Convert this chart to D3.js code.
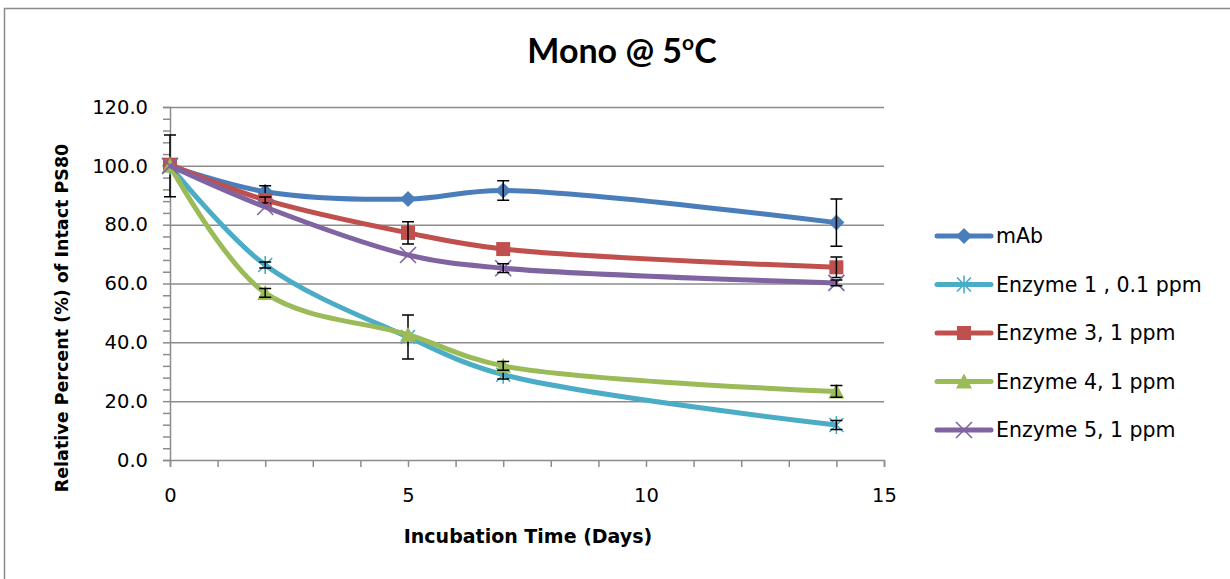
<!DOCTYPE html>
<html>
<head>
<meta charset="utf-8">
<script src="https://cdn.jsdelivr.net/npm/d3@7"></script>
<style>
  body { margin: 0; background: #fff; }
  svg text { font-family: "DejaVu Sans", sans-serif; fill: #000; }
</style>
</head>
<body>
<div id="chart"></div>
<script>
const width = 1230;
const height = 579;

// data
const days = [0, 2, 5, 7, 14];
const seriesNames = ['mAb', 'Enzyme 1 , 0.1 ppm', 'Enzyme 3, 1 ppm', 'Enzyme 4, 1 ppm', 'Enzyme 5, 1 ppm'];
const mAb      = [100.0, 91.2, 88.7, 91.6, 80.7];
const enzyme1  = [100.0, 66.3, 41.8, 29.0, 11.9];
const enzyme3  = [100.4, 88.4, 77.2, 71.7, 65.5];
const enzyme4  = [100.0, 56.8, 42.6, 32.0, 23.3];
const enzyme5  = [100.0, 86.0, 69.7, 65.2, 60.2];
const errMAb   = [10.5, 2.0, 0, 3.3, 8.0];
const errE1    = [0, 1.0, 7.5, 1.5, 1.5];
const errE3    = [0, 1.0, 3.8, 0, 3.5];
const errE4    = [0, 1.5, 0, 1.5, 2.0];
const errE5    = [0, 0, 0, 1.5, 1.0];
const colors   = ['#4a7ebb', '#4bacc6', '#c0504d', '#9bbb59', '#8064a2'];
const symbols  = ['diamond', 'asterisk', 'square', 'triangle', 'cross'];
const yTicks   = [0, 20, 40, 60, 80, 100, 120];
const xTicks   = [0, 5, 10, 15];

const allValues = [mAb, enzyme1, enzyme3, enzyme4, enzyme5];
const allErrors = [errMAb, errE1, errE3, errE4, errE5];

const series = seriesNames.map((name, i) => ({
  name: name,
  color: colors[i],
  symbol: symbols[i],
  points: days.map((d, j) => ({ x: d, y: allValues[i][j], e: allErrors[i][j] }))
}));

const svg = d3.select('#chart').append('svg')
  .attr('width', width)
  .attr('height', height);

// outer frame
svg.append('rect')
  .attr('x', 4.5).attr('y', 8.5)
  .attr('width', 1240).attr('height', 600)
  .attr('fill', 'none')
  .attr('stroke', '#8a8a8a')
  .attr('stroke-width', 1.5);

const xScale = d3.scaleLinear().domain([0, 15]).range([170, 884]);
const yScale = d3.scaleLinear().domain([0, 120]).range([460, 107]);

// gridlines
svg.append('g')
  .selectAll('line')
  .data(yTicks.filter(t => t > 0))
  .enter().append('line')
  .attr('x1', xScale(0)).attr('x2', xScale(15))
  .attr('y1', d => yScale(d) + 0.5).attr('y2', d => yScale(d) + 0.5)
  .attr('stroke', '#8c8c8c')
  .attr('stroke-width', 1.5);

// y axis with minor ticks every 4
const yAxisG = svg.append('g')
  .attr('transform', `translate(${xScale(0)}, 0)`)
  .call(d3.axisLeft(yScale).tickValues(d3.range(0, 121, 4)).tickSize(7).tickFormat(''));
const yLabels = svg.append('g')
  .attr('transform', `translate(${xScale(0)}, 0)`)
  .call(d3.axisLeft(yScale).tickValues(yTicks).tickSize(0).tickPadding(22).tickFormat(d3.format('.1f')));

// x axis with minor ticks every 1
const xAxisG = svg.append('g')
  .attr('transform', `translate(0, ${yScale(0)})`)
  .call(d3.axisBottom(xScale).tickValues(d3.range(0, 16, 1)).tickSize(7).tickFormat(''));
const xLabels = svg.append('g')
  .attr('transform', `translate(0, ${yScale(0)})`)
  .call(d3.axisBottom(xScale).tickValues(xTicks).tickSize(0).tickPadding(28).tickFormat(d3.format('d')));

[yAxisG, xAxisG].forEach(g => {
  g.selectAll('path').attr('stroke', '#8c8c8c').attr('stroke-width', 1.5);
  g.selectAll('line').attr('stroke', '#8c8c8c').attr('stroke-width', 1.5);
});
[yLabels, xLabels].forEach(g => {
  g.select('.domain').remove();
  g.selectAll('text').style('font-size', '19.5px').style('font-family', '"DejaVu Sans", sans-serif').attr('fill', '#000');
});

// title
const title = svg.append('text')
  .attr('x', 622).attr('y', 63)
  .attr('text-anchor', 'middle')
  .style('font-family', 'Lato, sans-serif')
  .style('font-weight', 'bold')
  .style('font-size', '34px');
title.append('tspan').text('Mono @ 5');
title.append('tspan').text('o').attr('dy', -13).style('font-size', '21px');
title.append('tspan').text('C').attr('dy', 13);

// axis titles
svg.append('text')
  .attr('x', 528).attr('y', 543)
  .attr('text-anchor', 'middle')
  .style('font-weight', 'bold')
  .style('font-size', '19px')
  .text('Incubation Time (Days)');

svg.append('text')
  .attr('transform', 'translate(68, 318) rotate(-90)')
  .attr('text-anchor', 'middle')
  .style('font-weight', 'bold')
  .style('font-size', '17.5px')
  .text('Relative Percent (%) of Intact PS80');

// lines
const line = d3.line()
  .x(d => xScale(d.x))
  .y(d => yScale(d.y))
  .curve(d3.curveCatmullRom.alpha(0.5));

function drawMarker(g, symbol, color, cx, cy) {
  if (symbol === 'diamond') {
    g.append('path').attr('d', `M${cx},${cy - 8}L${cx + 8},${cy}L${cx},${cy + 8}L${cx - 8},${cy}Z`).attr('fill', color);
  } else if (symbol === 'square') {
    g.append('rect').attr('x', cx - 7).attr('y', cy - 7).attr('width', 14).attr('height', 14).attr('fill', color);
  } else if (symbol === 'triangle') {
    g.append('path').attr('d', `M${cx},${cy - 8}L${cx + 8},${cy + 7}L${cx - 8},${cy + 7}Z`).attr('fill', color);
  } else if (symbol === 'asterisk') {
    g.append('path').attr('d', `M${cx - 7},${cy - 7}L${cx + 7},${cy + 7}M${cx - 7},${cy + 7}L${cx + 7},${cy - 7}M${cx},${cy - 9}L${cx},${cy + 9}`)
      .attr('stroke', color).attr('stroke-width', 1.6).attr('fill', 'none');
  } else if (symbol === 'cross') {
    g.append('path').attr('d', `M${cx - 8},${cy - 8}L${cx + 8},${cy + 8}M${cx - 8},${cy + 8}L${cx + 8},${cy - 8}`)
      .attr('stroke', color).attr('stroke-width', 1.6).attr('fill', 'none');
  }
}

series.forEach(s => {
  const g = svg.append('g').attr('class', 'series');
  g.append('path')
    .datum(s.points)
    .attr('d', line)
    .attr('fill', 'none')
    .attr('stroke', s.color)
    .attr('stroke-width', 5)
    .attr('stroke-linejoin', 'round');
  s.points.forEach(p => drawMarker(g, s.symbol, s.color, xScale(p.x), yScale(p.y)));
  // error bars
  s.points.filter(p => p.e > 0).forEach(p => {
    const cx = xScale(p.x);
    const y1 = yScale(p.y + p.e), y2 = yScale(p.y - p.e);
    g.append('path')
      .attr('d', `M${cx},${y1}L${cx},${y2}M${cx - 6},${y1}L${cx + 6},${y1}M${cx - 6},${y2}L${cx + 6},${y2}`)
      .attr('stroke', '#000').attr('stroke-width', 1.5).attr('fill', 'none');
  });
});

// legend
const legend = svg.append('g').attr('class', 'legend');
series.forEach((s, i) => {
  const ly = 236 + i * 48.5;
  const lg = legend.append('g');
  lg.append('line')
    .attr('x1', 937).attr('x2', 991)
    .attr('y1', ly).attr('y2', ly)
    .attr('stroke', s.color).attr('stroke-width', 5).attr('stroke-linecap', 'round');
  drawMarker(lg, s.symbol, s.color, 964, ly);
  lg.append('text')
    .attr('x', 996).attr('y', ly + 7)
    .style('font-size', '20.5px')
    .text(s.name);
});
</script>
</body>
</html>
